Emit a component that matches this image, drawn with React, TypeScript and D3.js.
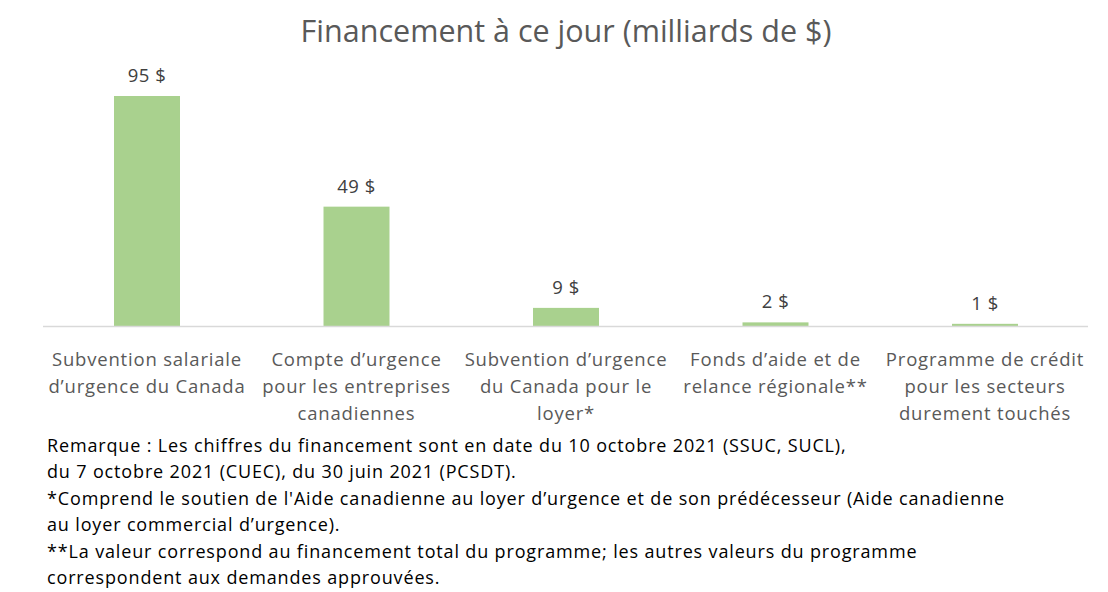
import React from "react";
import * as d3 from "d3";

const categories: string[][] = [
  ["Subvention salariale", "d’urgence du Canada"],
  ["Compte d’urgence", "pour les entreprises", "canadiennes"],
  ["Subvention d’urgence", "du Canada pour le", "loyer*"],
  ["Fonds d’aide et de", "relance régionale**"],
  ["Programme de crédit", "pour les secteurs", "durement touchés"],
];
const values: number[] = [95.2, 49.4, 7.5, 1.5, 0.9];
const valueLabels: string[] = ["95 $", "49 $", "9 $", "2 $", "1 $"];
const title = "Financement à ce jour (milliards de $)";
const notes: string[] = [
  "Remarque : Les chiffres du financement sont en date du 10 octobre 2021 (SSUC, SUCL),",
  "du 7 octobre 2021 (CUEC), du 30 juin 2021 (PCSDT).",
  "*Comprend le soutien de l'Aide canadienne au loyer d’urgence et de son prédécesseur (Aide canadienne",
  "au loyer commercial d’urgence).",
  "**La valeur correspond au financement total du programme; les autres valeurs du programme",
  "correspondent aux demandes approuvées.",
];

const W = 1108;
const H = 592;
const FONT = "'Open Sans', 'Noto Sans', sans-serif";

export default function App() {
  const x = d3
    .scaleBand<number>()
    .domain(d3.range(values.length))
    .range([42.25, 1089.75])
    .paddingInner(0.685)
    .paddingOuter(0.3425);
  const baseY = 326;
  const y = d3.scaleLinear().domain([0, 95.2]).range([baseY, 96]);

  return (
    <svg
      width={W}
      height={H}
      style={{ position: "absolute", left: 0, top: 0, display: "block", background: "#fff" }}
      fontFamily={FONT}
    >
      <text x={566} y={42} textAnchor="middle" fontSize={30.5} fill="#595959">
        {title}
      </text>
      {values.map((v, i) => (
        <rect
          key={"b" + i}
          x={x(i)}
          y={y(v)}
          width={x.bandwidth()}
          height={baseY - y(v)}
          fill="#a9d18e"
        />
      ))}
      <line x1={43} x2={1088} y1={baseY + 0.5} y2={baseY + 0.5} stroke="#d9d9d9" strokeWidth={1.5} />
      {values.map((v, i) => (
        <text
          key={"v" + i}
          x={(x(i) as number) + x.bandwidth() / 2}
          y={y(v) - 14}
          textAnchor="middle"
          fontSize={18.5}
          letterSpacing={0.5}
          fill="#404040"
        >
          {valueLabels[i]}
        </text>
      ))}
      {categories.map((lines, i) => (
        <text
          key={"c" + i}
          x={(x(i) as number) + x.bandwidth() / 2}
          textAnchor="middle"
          fontSize={18.5}
          letterSpacing={0.8}
          fill="#595959"
        >
          {lines.map((l, j) => (
            <tspan key={j} x={(x(i) as number) + x.bandwidth() / 2} y={366 + j * 27}>
              {l}
            </tspan>
          ))}
        </text>
      ))}
      <text fontSize={18} letterSpacing={0.85} fill="#000">
        {notes.map((l, j) => (
          <tspan key={j} x={47} y={452 + j * 26.4}>
            {l}
          </tspan>
        ))}
      </text>
    </svg>
  );
}
